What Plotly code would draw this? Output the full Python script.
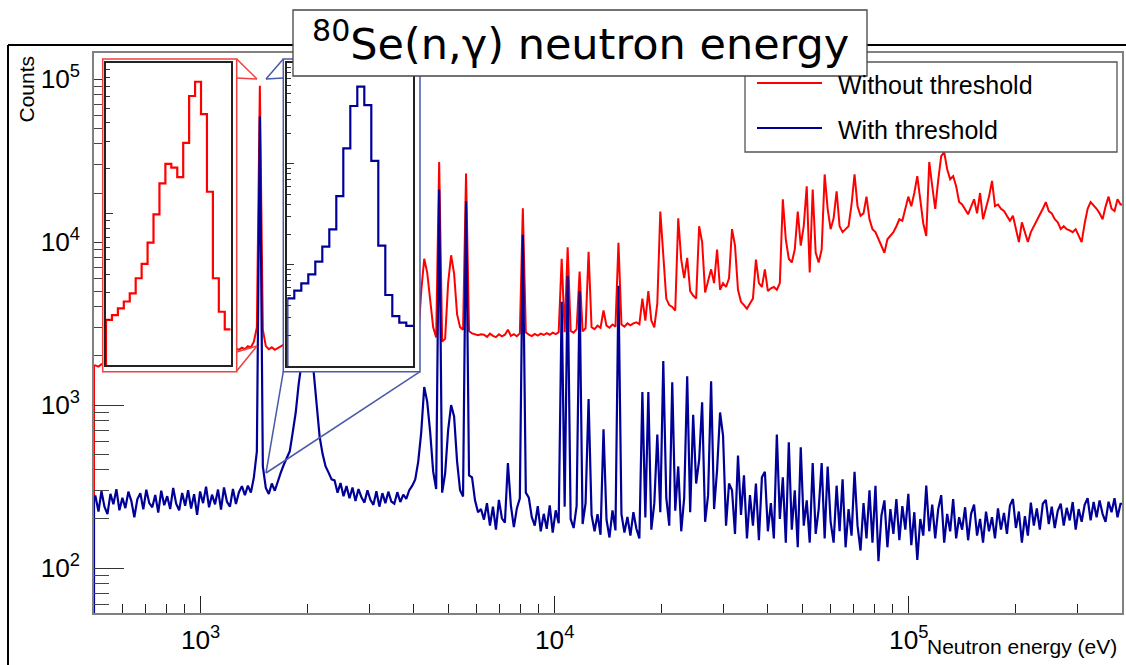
import numpy as np
import plotly.graph_objects as go

W, H = 1126, 665

# ---- data -------------------------------------------------------------
# Log-spaced neutron-energy binning of the spectra (eV)
E_MIN, E_MAX, N_BINS = 500.0, 4.0e5, 344

# Counts per bin, 80Se(n,g) without the deposited-energy threshold
COUNTS_NO_THRESHOLD = [
    1750, 1720, 1780, 1790, 1760, 1810, 1800, 1830, 1790, 1850,
    1840, 1870, 1860, 1890, 1880, 1910, 1900, 1930, 1920, 1950,
    1940, 1970, 1960, 1990, 1980, 2010, 2000, 2030, 2020, 2050,
    2040, 2070, 2060, 2090, 2080, 2110, 2100, 2130, 2120, 2150,
    2140, 2170, 2160, 2190, 2180, 2210, 2200, 2230, 2180, 2250,
    2200, 2300, 2260, 2450, 3000, 91000, 2900, 2300, 2200, 2260,
    2180, 2240, 2300, 2350, 2400, 2500, 2700, 3100, 3800, 4800,
    5800, 6200, 5600, 4300, 3400, 2900, 2700, 2600, 2550, 2500,
    2480, 2460, 2470, 2440, 2450, 2430, 2440, 2420, 2430, 2410,
    2420, 2400, 2410, 2400, 2390, 2400, 2380, 2400, 2390, 2410,
    2420, 2440, 2450, 2460, 2450, 2470, 2480, 2520, 2600, 5000,
    7900, 6500, 4200, 3000, 2600, 31000, 2450, 2550, 5600, 8300,
    6400, 3600, 3000, 2900, 26300, 2850, 2750, 2700, 2680, 2720,
    2700, 2620, 2740, 2660, 2610, 2720, 2640, 2700, 2900, 2660,
    2720, 2640, 2750, 16100, 2800, 2700, 2650, 2730, 2670, 2740,
    2690, 2760, 2700, 2780, 2720, 2800, 7900, 2800, 9300, 2850,
    2780, 2920, 6600, 2830, 2960, 8700, 3000, 2920, 3070, 2980,
    3800, 3070, 2980, 3120, 3030, 9900, 3120, 3030, 3170, 3080,
    3170, 3220, 3130, 4500, 3300, 5000, 3300, 3000, 4200, 15400,
    7800, 4500, 4100, 4000, 3800, 14000, 7800, 6000, 8000, 5000,
    4700, 4500, 12500, 10000, 4900, 5900, 6800, 5600, 9000, 5100,
    5600, 5300, 6000, 12000, 9500, 5100, 4300, 4100, 3900, 4200,
    4500, 7800, 5600, 5300, 6800, 5000, 5200, 5300, 5100, 5600,
    18300, 10400, 7900, 7500, 9000, 15400, 9500, 12500, 22000, 6500,
    21000, 8600, 7500, 9000, 26000, 16000, 12000, 14000, 20500, 12500,
    11500, 12000, 12500, 17000, 26000, 16600, 14500, 15000, 19000, 13800,
    12000, 11500, 10400, 9600, 8600, 10400, 11000, 11500, 12500, 13800,
    13500, 16000, 19000, 16600, 20000, 25400, 18300, 13000, 10900, 31000,
    22000, 16000, 24000, 33700, 35600, 28000, 24300, 25400, 22000, 17600,
    17000, 16000, 14800, 16500, 18300, 15000, 20000, 13800, 16000, 19000,
    23700, 16600, 17000, 16000, 15500, 14500, 13500, 14500, 12000, 10000,
    13200, 11500, 10000, 11500, 12500, 13500, 14500, 16000, 17600, 15500,
    15000, 13800, 13200, 12000, 12500, 12000, 11800, 11500, 12000, 11000,
    10000, 13000, 16000, 17600, 16800, 16000, 15000, 13800, 16500, 19000,
    16000, 15500, 18300, 17000,
]

# Counts per bin with the threshold applied
COUNTS_THRESHOLD = [
    275, 222, 296, 238, 214, 285, 246, 305, 226, 270,
    233, 294, 258, 205, 264, 288, 229, 302, 250, 236,
    281, 219, 298, 243, 276, 230, 310, 248, 226, 289,
    241, 300, 232, 284, 212, 295, 250, 316, 236, 282,
    246, 303, 228, 312, 255, 238, 306, 247, 292, 318,
    280, 320, 290, 360, 520, 59000, 420, 310, 285, 330,
    298, 345, 385, 430, 470, 520, 680, 900, 1350, 1900,
    2500, 2700, 2300, 1600, 950, 640, 500, 420, 385, 350,
    345, 290, 332, 276, 318, 268, 312, 258, 305, 272,
    252, 300, 262, 244, 296, 238, 288, 250, 294, 256,
    248, 292, 254, 282, 266, 300, 320, 350, 450, 680,
    1290, 1050, 680, 390, 305, 21000, 290, 380, 700, 1000,
    850, 450, 300, 275, 17800, 370, 360, 260, 220, 230,
    198, 250, 182, 238, 172, 262, 202, 190, 440, 242,
    178, 232, 268, 11100, 290, 270, 205, 182, 240, 168,
    215, 174, 242, 165, 226, 188, 4300, 238, 6200, 200,
    176, 240, 5000, 186, 250, 1090, 212, 168, 214, 160,
    710, 198, 154, 226, 170, 5400, 214, 165, 206, 158,
    220, 174, 152, 1200, 204, 1200, 172, 250, 660, 220,
    1860, 270, 182, 1380, 225, 420, 168, 270, 1500, 220,
    870, 330, 460, 1040, 192, 280, 1400, 230, 400, 900,
    650, 182, 330, 300, 162, 490, 212, 370, 152, 280,
    182, 330, 148, 360, 390, 168, 250, 152, 660, 200,
    360, 143, 590, 172, 300, 134, 550, 182, 260, 143,
    440, 162, 230, 440, 152, 420, 192, 143, 320, 168,
    350, 134, 230, 158, 390, 182, 128, 250, 152, 300,
    143, 320, 110, 210, 260, 134, 230, 162, 265, 148,
    240, 172, 285, 138, 220, 112, 200, 158, 320, 168,
    245, 152, 230, 280, 143, 215, 168, 265, 152, 205,
    172, 236, 148, 215, 245, 158, 200, 143, 222, 168,
    205, 152, 232, 172, 218, 162, 242, 265, 176, 222,
    143, 208, 158, 252, 182, 232, 172, 248, 262, 186,
    238, 176, 224, 248, 182, 234, 196, 254, 172, 230,
    192, 244, 268, 196, 254, 205, 260, 215, 192, 255,
    220, 268, 205, 248,
]

# Fine-binned zooms of the 1.46 keV resonance (eV)
ZOOM_NO_THR_START, ZOOM_NO_THR_WIDTH = 1367.0, 6.0
ZOOM_NO_THR_COUNTS = [1986, 2138, 2371, 2630, 2980, 3750, 4660, 6450, 9910,
                      15900, 21400, 20200, 17500, 29500, 60200, 74800, 45700,
                      14000, 3750, 2250, 1720]
ZOOM_THR_START, ZOOM_THR_WIDTH = 1397.0, 6.0
ZOOM_THR_COUNTS = [467, 556, 657, 807, 1076, 1514, 2248, 4800, 14200, 37300,
                   57900, 38100, 10700, 1549, 504, 312, 268, 249]

Y_TITLE = "Counts"
X_TITLE = "Neutron energy (eV)"
SERIES_NAMES = ["Without threshold", "With threshold"]

# ---- style ------------------------------------------------------------
RED = "#ff0000"
BLUE = "#000099"
RED_BOX = "#f04040"
BLUE_BOX = "#4a5aa8"
FRAME = "#808080"
TXT = "Liberation Sans"


def fx(px):
    return px / W


def fy(py):
    return 1 - py / H


def step_xy(edges, counts, floor=1.0):
    """Histogram outline that rises from below the axis at the first edge."""
    edges = np.asarray(edges, dtype=float)
    counts = np.asarray(counts, dtype=float)
    x = np.concatenate([[edges[0]], edges[:-1], [edges[-1]]])
    y = np.concatenate([[floor], counts, [counts[-1]]])
    return x, y


def polyline_xy(edges, counts, floor=1.0):
    """Dense log-binned spectrum joined through bin centres."""
    edges = np.asarray(edges, dtype=float)
    counts = np.asarray(counts, dtype=float)
    centres = np.sqrt(edges[:-1] * edges[1:])
    x = np.concatenate([[edges[0], edges[0]], centres, [edges[-1]]])
    y = np.concatenate([[floor, counts[0]], counts, [counts[-1]]])
    return x, y


edges = np.logspace(np.log10(E_MIN), np.log10(E_MAX), N_BINS + 1)
zoom_red_edges = ZOOM_NO_THR_START + ZOOM_NO_THR_WIDTH * np.arange(len(ZOOM_NO_THR_COUNTS) + 1)
zoom_blue_edges = ZOOM_THR_START + ZOOM_THR_WIDTH * np.arange(len(ZOOM_THR_COUNTS) + 1)

fig = go.Figure()

# main spectra
for counts, color, name, lw in [(COUNTS_NO_THRESHOLD, RED, SERIES_NAMES[0], 2.0),
                                (COUNTS_THRESHOLD, BLUE, SERIES_NAMES[1], 2.2)]:
    x, y = polyline_xy(edges, counts)
    fig.add_trace(go.Scatter(x=x, y=y, mode="lines", name=name,
                             line=dict(color=color, width=lw),
                             showlegend=False, hoverinfo="skip",
                             xaxis="x", yaxis="y"))

# white panels under the zoom insets, then the zoomed histograms
for ax in ("2", "4"):
    fig.add_trace(go.Scatter(x=[0, 1, 1, 0, 0], y=[0, 0, 1, 1, 0], mode="lines",
                             fill="toself", fillcolor="white",
                             line=dict(width=0, color="white"),
                             showlegend=False, hoverinfo="skip",
                             xaxis="x" + ax, yaxis="y" + ax))
    if ax == "2":
        x, y = step_xy(zoom_red_edges, ZOOM_NO_THR_COUNTS)
        fig.add_trace(go.Scatter(x=x, y=y, mode="lines",
                                 line=dict(color=RED, width=2.2, shape="hv"),
                                 showlegend=False, hoverinfo="skip",
                                 xaxis="x3", yaxis="y3"))
    else:
        x, y = step_xy(zoom_blue_edges, ZOOM_THR_COUNTS)
        fig.add_trace(go.Scatter(x=x, y=y, mode="lines",
                                 line=dict(color=BLUE, width=2.2, shape="hv"),
                                 showlegend=False, hoverinfo="skip",
                                 xaxis="x5", yaxis="y5"))

tickfont = dict(family=TXT, size=21, color="black")

main_x = dict(type="log", range=[np.log10(E_MIN), np.log10(E_MAX)],
              domain=[fx(94), fx(1122)], anchor="y",
              showline=True, mirror=True, linecolor=FRAME, linewidth=1.5,
              ticks="inside", ticklen=17, tickwidth=1, tickcolor="#222",
              dtick=1, exponentformat="power", tickfont=tickfont,
              minor=dict(ticks="inside", ticklen=9, tickwidth=1, tickcolor="#222",
                         dtick="D1", showgrid=False),
              showgrid=False, zeroline=False, ticklabelstandoff=4)
main_y = dict(type="log", range=[1.724, 5.16],
              domain=[fy(613), fy(53)], anchor="x",
              showline=True, mirror=True, linecolor=FRAME, linewidth=1.5,
              ticks="inside", ticklen=30, tickwidth=1, tickcolor="#333",
              dtick=1, exponentformat="power", tickfont=tickfont,
              minor=dict(ticks="inside", ticklen=15, tickwidth=1, tickcolor="#444",
                         dtick="D1", showgrid=False),
              showgrid=False, zeroline=False, ticklabelstandoff=8)


def hidden_axis(dom, anchor):
    return dict(domain=dom, range=[0, 1], visible=False, anchor=anchor,
                fixedrange=True)


def inset_x(dom, rng, anchor):
    return dict(domain=dom, range=rng, anchor=anchor, showline=True, mirror=True,
                linecolor="#222", linewidth=1.5, ticks="", showticklabels=False,
                showgrid=False, zeroline=False)


def inset_y(dom, rng, anchor):
    return dict(type="log", domain=dom, range=rng, anchor=anchor, showline=True,
                mirror=True, linecolor="#222", linewidth=1.5, ticks="inside",
                ticklen=7, tickcolor="#333", dtick=1, showticklabels=False,
                minor=dict(ticks="inside", ticklen=4, tickcolor="#333", dtick="D1",
                           showgrid=False),
                showgrid=False, zeroline=False)


RED_OUT = (102.7, 59, 236.7, 371.7)
RED_IN = (106, 62.7, 230.7, 365)
BLUE_OUT = (283.3, 59, 420, 371.7)
BLUE_IN = (287.3, 62.7, 413.3, 366)

layout_axes = dict(
    xaxis=main_x, yaxis=main_y,
    xaxis2=hidden_axis([fx(RED_OUT[0]), fx(RED_OUT[2])], "y2"),
    yaxis2=hidden_axis([fy(RED_OUT[3]), fy(RED_OUT[1])], "x2"),
    xaxis3=inset_x([fx(RED_IN[0]), fx(RED_IN[2])],
                   [zoom_red_edges[0], zoom_red_edges[-1]], "y3"),
    yaxis3=inset_y([fy(RED_IN[3]), fy(RED_IN[1])], [3, 5], "x3"),
    xaxis4=hidden_axis([fx(BLUE_OUT[0]), fx(BLUE_OUT[2])], "y4"),
    yaxis4=hidden_axis([fy(BLUE_OUT[3]), fy(BLUE_OUT[1])], "x4"),
    xaxis5=inset_x([fx(BLUE_IN[0]), fx(BLUE_IN[2])],
                   [zoom_blue_edges[0], zoom_blue_edges[-1]], "y5"),
    yaxis5=inset_y([fy(BLUE_IN[3]), fy(BLUE_IN[1])], [2, 5], "x5"),
)


def line(x0, y0, x1, y1, color, width=1.5):
    return dict(type="line", xref="paper", yref="paper",
                x0=fx(x0), y0=fy(y0), x1=fx(x1), y1=fy(y1),
                line=dict(color=color, width=width), layer="above")


def rect(x0, y0, x1, y1, color, width=1.5, fill=None):
    d = dict(type="rect", xref="paper", yref="paper",
             x0=fx(x0), y0=fy(y1), x1=fx(x1), y1=fy(y0),
             line=dict(color=color, width=width), layer="above")
    if fill:
        d["fillcolor"] = fill
    return d


shapes = [
    # canvas border
    line(8, 45, 1126, 45, "black", 2),
    line(8, 45, 8, 665, "black", 2),
    # zoom boxes and their pointers to the resonance
    rect(*RED_OUT, RED_BOX),
    line(236.7, 59, 257, 79, RED_BOX), line(236.7, 78, 257, 79, RED_BOX),
    line(236.7, 371, 257, 346, RED_BOX), line(236.7, 352, 257, 346, RED_BOX),
    rect(*BLUE_OUT, BLUE_BOX),
    line(283.3, 59, 266, 79, BLUE_BOX), line(283.3, 78, 266, 79, BLUE_BOX),
    line(283.3, 371.7, 266, 473, BLUE_BOX), line(420, 371.7, 266, 473, BLUE_BOX),
    # legend
    rect(745, 62, 1117, 152, "#555", 1.3, "white"),
    line(757, 83, 822, 83, RED, 2),
    line(757, 128, 822, 128, BLUE, 2),
    # title box
    rect(293, 10, 867, 76, "#444", 1.3, "white"),
]

annotations = [
    dict(text="<sup>80</sup>Se(n,γ) neutron energy", x=fx(580), y=fy(41),
         xref="paper", yref="paper", showarrow=False, xanchor="center",
         yanchor="middle", font=dict(family="DejaVu Sans", size=43, color="black")),
    dict(text=SERIES_NAMES[0], x=fx(836), y=fy(85), xref="paper", yref="paper",
         showarrow=False, xanchor="left", yanchor="middle",
         font=dict(family=TXT, size=25, color="black")),
    dict(text=SERIES_NAMES[1], x=fx(836), y=fy(130), xref="paper", yref="paper",
         showarrow=False, xanchor="left", yanchor="middle",
         font=dict(family=TXT, size=25, color="black")),
    dict(text=Y_TITLE, x=fx(26), y=fy(54), xref="paper", yref="paper",
         showarrow=False, textangle=-90, xanchor="center", yanchor="top",
         font=dict(family=TXT, size=21, color="black")),
    dict(text=X_TITLE, x=fx(1119), y=fy(646), xref="paper", yref="paper",
         showarrow=False, xanchor="right", yanchor="middle",
         font=dict(family=TXT, size=21, color="black")),
]

fig.update_layout(
    width=W, height=H, autosize=False,
    margin=dict(l=0, r=0, t=0, b=0),
    paper_bgcolor="white", plot_bgcolor="white",
    showlegend=False,
    shapes=shapes, annotations=annotations,
    **layout_axes,
)

fig.write_html("out.html")
